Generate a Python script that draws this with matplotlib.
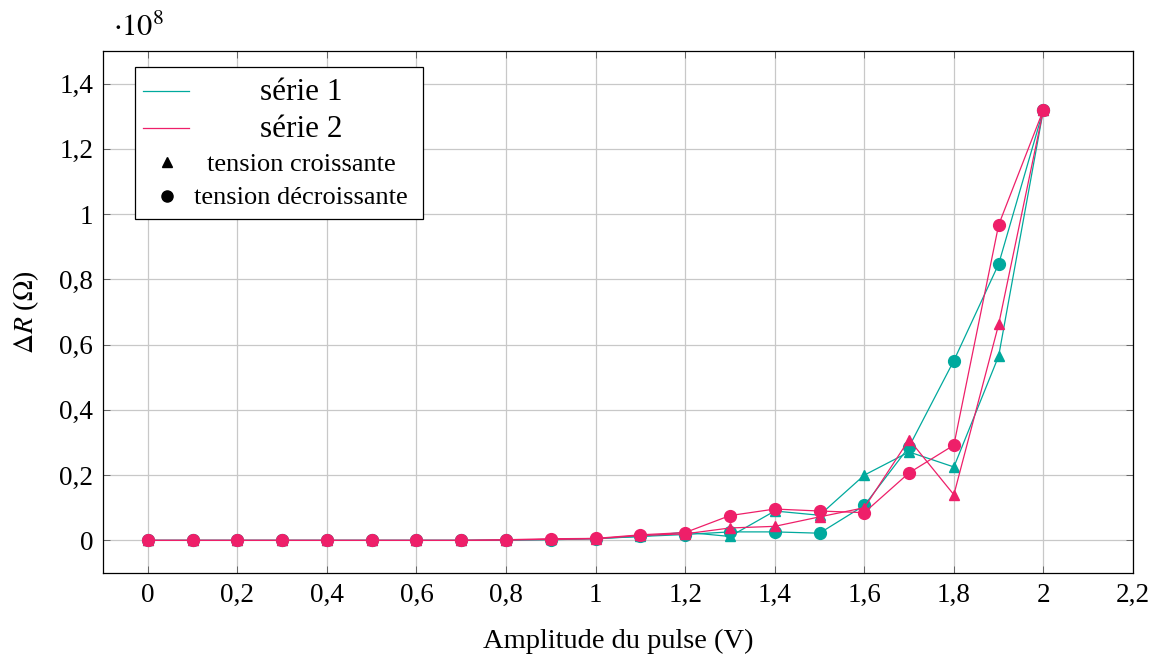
import matplotlib
matplotlib.use("Agg")
import matplotlib.pyplot as plt
from matplotlib.lines import Line2D
from matplotlib.patches import Rectangle
import numpy as np

plt.rcParams['font.family'] = ['Liberation Serif', 'DejaVu Serif']
plt.rcParams['mathtext.fontset'] = 'stix'

amplitude = [0.0, 0.1, 0.2, 0.3, 0.4, 0.5, 0.6, 0.7, 0.8, 0.9, 1.0,
             1.1, 1.2, 1.3, 1.4, 1.5, 1.6, 1.7, 1.8, 1.9, 2.0]
s1_up = [0, 0, 0, 0, 0, 0, 0, 0, 0.001, 0.003, 0.006,
         0.012, 0.025, 0.012, 0.09, 0.077, 0.2, 0.271, 0.225, 0.565, 1.32]
s1_down = [0, 0, 0, 0, 0, 0, 0, 0, 0.001, 0.002, 0.005,
           0.012, 0.018, 0.026, 0.026, 0.022, 0.107, 0.287, 0.551, 0.847, 1.32]
s2_up = [0, 0, 0, 0, 0, 0, 0, 0, 0.001, 0.003, 0.005,
         0.015, 0.02, 0.038, 0.043, 0.072, 0.1, 0.309, 0.14, 0.662, 1.32]
s2_down = [0, 0, 0, 0, 0, 0, 0, 0, 0.002, 0.005, 0.006,
           0.017, 0.024, 0.076, 0.096, 0.09, 0.085, 0.207, 0.292, 0.967, 1.32]

xticks = [0, 0.2, 0.4, 0.6, 0.8, 1.0, 1.2, 1.4, 1.6, 1.8, 2.0, 2.2]
xticklabels = ["0", "0,2", "0,4", "0,6", "0,8", "1", "1,2", "1,4", "1,6", "1,8", "2", "2,2"]
yticks = [0, 0.2, 0.4, 0.6, 0.8, 1.0, 1.2, 1.4]
yticklabels = ["0", "0,2", "0,4", "0,6", "0,8", "1", "1,2", "1,4"]
legend_labels = ["série 1", "série 2", "tension croissante", "tension décroissante"]

teal = '#00A99D'
pink = '#EE1F69'

W, H = 1158, 657
fig = plt.figure(figsize=(W / 100, H / 100), dpi=100)
ax = fig.add_axes([103 / W, 1 - 573 / H, (1133 - 103) / W, (573 - 51) / H])

lw = 0.9
ax.plot(amplitude, s1_up, color=teal, lw=lw, marker='^', ms=7.5, zorder=3)
ax.plot(amplitude, s1_down, color=teal, lw=lw, marker='o', ms=8.5, zorder=3)
ax.plot(amplitude, s2_up, color=pink, lw=lw, marker='^', ms=7.5, zorder=4)
ax.plot(amplitude, s2_down, color=pink, lw=lw, marker='o', ms=8.5, zorder=4)

ax.set_xlim(-0.1, 2.2)
ax.set_ylim(-0.1, 1.5)
ax.set_xticks(xticks)
ax.set_xticklabels(xticklabels)
ax.set_yticks(yticks)
ax.set_yticklabels(yticklabels)
ax.tick_params(direction='in', top=True, right=True, labelsize=19.5, length=5,
               width=0.6, color='#555555', pad=7)
ax.grid(True, color='#c8c8c8', lw=0.9)
ax.set_axisbelow(True)
for sp in ax.spines.values():
    sp.set_linewidth(0.9)

ax.set_xlabel("Amplitude du pulse (V)", fontsize=20.5, labelpad=15)
ax.set_ylabel(r"$\Delta R$ ($\Omega$)", fontsize=20, labelpad=13)

fig.text(113 / W, 1 - 36 / H, r"$\cdot10^{8}$", fontsize=22,
         ha='left', va='baseline')

# legend drawn in figure pixel coordinates
def fx(px):
    return px / W

def fy(py):
    return 1 - py / H

tf = fig.transFigure
fig.patches.append(Rectangle((fx(135), fy(219)), fx(423) - fx(135), fy(67) - fy(219),
                             transform=tf, facecolor='white', edgecolor='black',
                             lw=0.9, zorder=10))
fig.lines.append(Line2D([fx(143), fx(189)], [fy(91), fy(91)], color=teal, lw=lw,
                        transform=tf, zorder=11))
fig.lines.append(Line2D([fx(143), fx(189)], [fy(128), fy(128)], color=pink, lw=lw,
                        transform=tf, zorder=11))
fig.lines.append(Line2D([fx(167)], [fy(162)], color='black', lw=0, marker='^', ms=7,
                        transform=tf, zorder=11))
fig.lines.append(Line2D([fx(167)], [fy(196)], color='black', lw=0, marker='o', ms=8,
                        transform=tf, zorder=11))
leg_y = [100, 137, 171, 204]
leg_fs = [22.5, 22.5, 19, 19]
for lab, yy, fs in zip(legend_labels, leg_y, leg_fs):
    fig.text(fx(301), fy(yy), lab, fontsize=fs, ha='center', va='baseline', zorder=12)

fig.savefig("out.png", dpi=100)
